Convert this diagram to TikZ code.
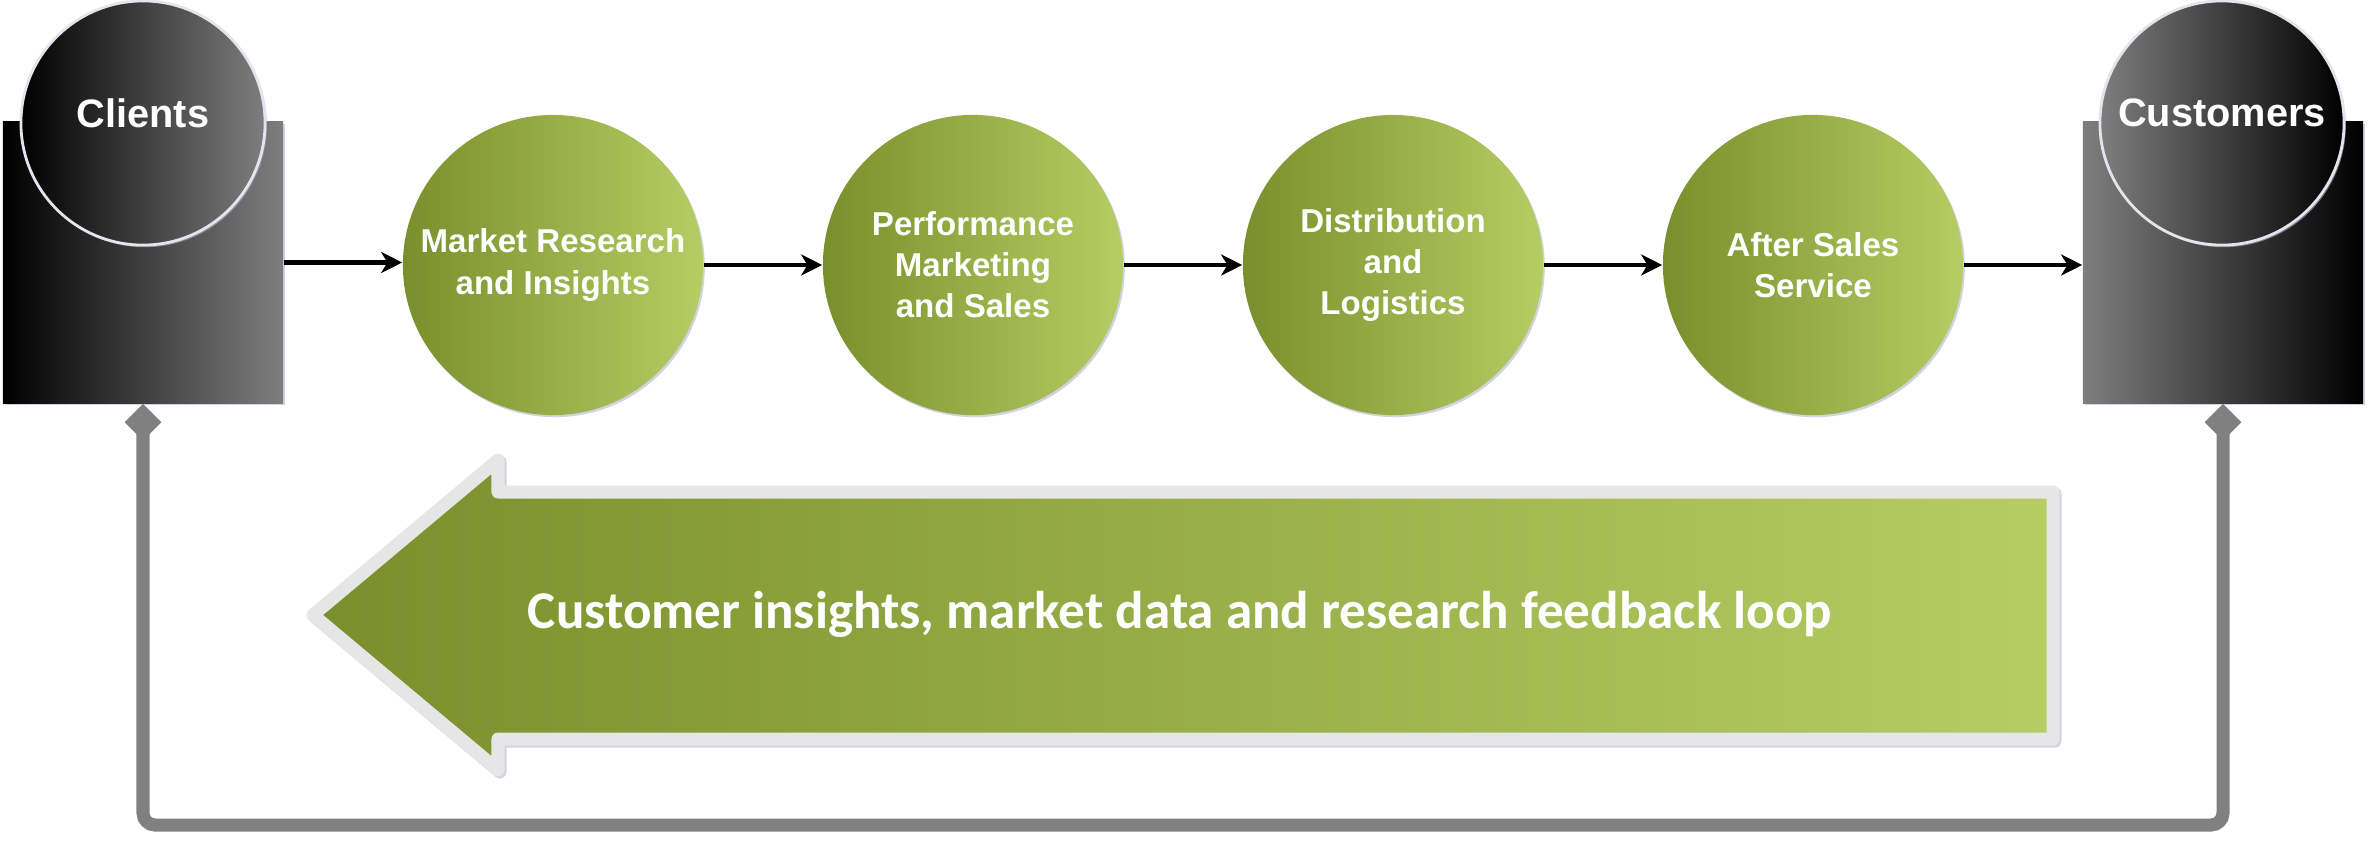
\documentclass[tikz,border=0pt]{standalone}
\usepackage{fontspec}
\setmainfont{Liberation Sans}
\newfontfamily\carlito{Carlito}
\usetikzlibrary{arrows.meta,shadows,calc}
\definecolor{gdark}{HTML}{7A8F2B}
\definecolor{glight}{HTML}{B6CC64}
\definecolor{rgray}{HTML}{7E7E7E}
\definecolor{shad}{HTML}{B4B4CC}
\definecolor{rimc}{HTML}{E4E4EE}
\definecolor{arrowrim}{HTML}{E6E6E6}
\definecolor{loopc}{HTML}{808080}
\begin{document}
\begin{tikzpicture}[x=0.01cm,y=-0.01cm,
  shd/.style={drop shadow={shadow xshift=0.5pt,shadow yshift=-0.6pt,opacity=0.6,fill=shad}},
  darkbox/.style={rectangle, minimum width=2.8cm, minimum height=2.81cm, inner sep=0pt, shd},
  darkcirc/.style={circle, minimum size=2.44cm, inner sep=0pt, draw=rimc, line width=0.8pt, shd,
    text=white, font=\bfseries\fontsize{11.3}{13}\selectfont, text depth=0.2cm},
  stage/.style={circle, minimum size=3cm, inner sep=0pt, left color=gdark, right color=glight, shd,
    text=white, align=center, font=\bfseries\fontsize{9.4}{11.7}\selectfont},
  flow/.style={-{Stealth[length=6pt,width=6pt,inset=1.8pt]}, line width=1.4pt},
  loopline/.style={{Diamond[length=10.5pt,width=10.5pt]}-{Diamond[length=10.5pt,width=10.5pt]},
    draw=loopc, line width=3.7pt, rounded corners=3.4pt},
  bigarrow/.style={draw=arrowrim, line width=3.7pt, line join=round, left color=gdark, right color=glight},
]
\useasboundingbox (0,0) rectangle (2377,854);

% feedback arrow
\draw[shad, line width=3.7pt, line join=round, opacity=0.6, shift={(2,2)}]
  (313,615) -- (498,460) -- (498,492) -- (2053,492) -- (2053,739) -- (498,739) -- (498,770) -- cycle;
\draw[bigarrow]
  (313,615) -- (498,460) -- (498,492) -- (2053,492) -- (2053,739) -- (498,739) -- (498,770) -- cycle;
\node[text=white, font=\carlito\bfseries\fontsize{15.1}{18}\selectfont] (fbtext) at (1180,614)
  {Customer insights, market data and research feedback loop};

% end boxes
\node[darkbox, left color=black, right color=rgray] (cliR) at (143,262.5) {};
\node[darkcirc, left color=black, right color=rgray] (cliC) at (143,123) {Clients};
\node[darkbox, left color=rgray, right color=black] (cusR) at (2223,262.5) {};
\node[darkcirc, left color=rgray, right color=black] (cusC) at (2222,123) {Customers};

% stages
\node[stage] (s1) at (553,265) {Market Research\\and Insights};
\node[stage] (s2) at (973,265) {Performance\\Marketing\\and Sales};
\node[stage] (s3) at (1393,265) {Distribution\\and\\Logistics};
\node[stage] (s4) at (1813,265) {After Sales\\Service};

\draw[flow] (cliR.east) -- (cliR.east -| s1.west);
\draw[flow] (s1.east) -- (s2.west);
\draw[flow] (s2.east) -- (s3.west);
\draw[flow] (s3.east) -- (s4.west);
\draw[flow] (s4.east) -- (s4.east -| cusR.west);

% loop connector
\coordinate (lb) at (2223,825);
\draw[loopline] (cusR.south) -- (cusR.south |- lb) -- (cliR.south |- lb) -- (cliR.south);
\end{tikzpicture}
\end{document}
